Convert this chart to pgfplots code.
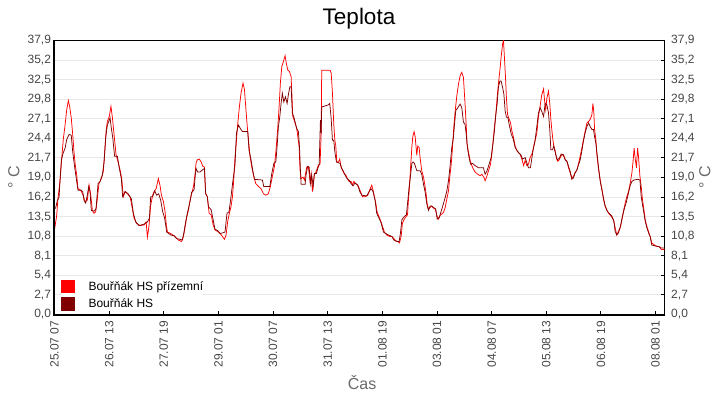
\documentclass[border=0pt]{standalone}
\usepackage{fontspec}
\setmainfont{Liberation Sans}
\usepackage{pgfplots}
\pgfplotsset{compat=1.18}
\definecolor{bouR}{RGB}{255,0,0}
\definecolor{bouD}{RGB}{128,0,0}
\definecolor{ticklab}{RGB}{70,70,70}
\definecolor{lab}{RGB}{105,105,105}
\definecolor{gridc}{RGB}{232,232,232}
\pgfplotsset{
  common/.style={
    at={(0,0)}, anchor=south west, scale only axis,
    width=610.2pt, height=274pt,
    xmin=0, xmax=335, ymin=0, ymax=37.9,
    xtick={0,30,60,90,120,150,180,210,240,270,300,330},
    ytick={0,2.70714,5.41429,8.12143,10.82857,13.53571,16.24286,18.95,21.65714,24.36429,27.07143,29.77857,32.48571,35.19286,37.9},
    yticklabels={{0,0},{2,7},{5,4},{8,1},{10,8},{13,5},{16,2},{19,0},{21,7},{24,4},{27,1},{29,8},{32,5},{35,2},{37,9}},
    /pgf/number format/assume math mode=true,
    ticklabel style={font=\fontsize{12}{14}\selectfont, text=ticklab},
  }
}
\begin{document}
\begin{tikzpicture}
\useasboundingbox (-54.5pt,-85.5pt) rectangle (665.5pt,314.5pt);
\begin{axis}[
  common,
  xticklabels={25.07 07,26.07 13,27.07 19,29.07 01,30.07 07,31.07 13,01.08 19,03.08 01,04.08 07,05.08 13,06.08 19,08.08 01},
  xticklabel style={rotate=90, anchor=east, inner sep=0pt},
  xticklabel shift=6pt,
  xtick pos=left, ytick pos=right, yticklabel pos=left,
  tick align=inside, major tick length=4pt,
  tick style={black, line width=1pt},
  ymajorgrids, grid style={gridc, line width=1pt},
  axis line style={black, line width=1pt},
  title={Teplota},
  title style={at={(axis description cs:0.499,1.0383)}, anchor=base, font=\fontsize{22.5}{26}\selectfont, inner sep=0pt},
  xlabel={Čas},
  xlabel style={at={(axis description cs:0.504,-0.2755)}, anchor=base, font=\fontsize{16}{18}\selectfont, text=lab, inner sep=0pt},
  ylabel={° C},
  ylabel style={at={(axis description cs:-0.0664,0.5)}, anchor=center, font=\fontsize{16}{18}\selectfont, text=lab, inner sep=0pt},
  legend style={at={(axis description cs:0.0107,0.0139)}, anchor=south west, draw=none, fill=white, inner sep=0pt, outer sep=0pt, font=\fontsize{12}{14}\selectfont, row sep=4pt, nodes={inner sep=0pt}, /tikz/every odd column/.append style={column sep=14pt}},
  legend cell align=left,
  legend image code/.code={\fill[#1, draw=none] (0pt,-6.75pt) rectangle (13.5pt,6.75pt);},
  after end axis/.code={\draw[black, line width=2pt] (rel axis cs:0,1) -- (rel axis cs:0,0) -- (rel axis cs:1,0);},
]
\addplot[color=bouR, line width=0.75pt] coordinates {
(0,11.7)(1.2,13.7)(1.9,16.0)(3.0,18.4)(3.8,21.1)(4.9,24.4)(5.8,26.2)(6.7,28.3)(7.6,29.6)(8.3,28.8)(9.2,27.2)(10.0,24.9)(10.7,22.5)(11.4,20.7)(12.2,19.3)(12.9,17.4)(14.4,17.2)(15.7,16.5)(16.8,15.6)(18.0,15.8)(19.0,17.9)(19.9,16.5)(20.8,14.4)(21.7,14.0)(22.6,14.2)(23.5,16.0)(24.4,18.1)(25.7,18.8)(26.8,19.8)(27.6,22.5)(28.3,25.3)(29.0,26.7)(30.1,27.4)(31.0,28.8)(31.8,27.2)(32.7,24.9)(33.8,22.1)(34.9,21.1)(36.0,20.0)(36.9,18.8)(37.8,16.3)(38.7,17.0)(40.0,16.7)(41.5,16.3)(42.4,15.1)(43.7,13.3)(45.1,12.6)(47.0,12.3)(49.2,12.4)(50.3,12.8)(51.0,10.7)(51.9,12.3)(52.8,15.1)(53.9,16.5)(54.7,17.0)(55.8,17.4)(57.0,18.8)(57.9,17.9)(58.7,16.5)(59.8,15.6)(60.7,14.2)(61.4,12.3)(62.0,11.4)(63.8,11.2)(65.6,10.9)
(68.0,10.3)(69.8,10.1)(70.8,10.8)(71.7,12.1)(72.6,13.5)(73.5,14.4)(74.4,15.8)(75.3,16.7)(76.3,17.7)(77.2,19.5)(77.7,20.9)(78.4,21.4)(79.5,21.5)(80.5,21.1)(81.4,20.5)(82.3,20.4)(83.0,16.7)(83.9,16.3)(84.9,14.0)(86.0,13.8)(87.1,12.4)(88.1,11.7)(89.6,11.5)(90.9,11.2)(92.2,10.8)(93.3,10.4)(94.2,11.0)(95.1,12.9)(96.0,14.0)(96.9,14.9)(97.7,16.3)(98.4,18.6)(99.1,21.8)(99.9,24.1)(100.6,26.4)(101.5,28.7)(102.4,30.6)(103.5,32.0)(104.3,31.1)(105.0,28.7)(105.7,26.4)(106.5,24.1)(107.4,21.8)(108.3,20.4)(109.4,19.1)(110.5,18.1)(112.0,17.7)(113.4,17.4)(114.7,16.7)(116.0,16.5)(117.4,16.7)(118.5,17.7)(119.6,19.1)(120.7,20.4)(121.6,22.7)(122.6,25.9)(123.3,28.7)(124.0,32.0)(124.8,34.3)(125.9,35.2)(126.6,35.8)(127.3,34.7)(128.1,33.8)(129.0,33.6)(129.9,32.9)(130.3,30.6)(130.8,27.4)(131.3,27.1)
(133.0,25.7)(134.3,23.2)(134.8,20.0)(135.4,18.8)(136.5,19.0)(137.2,18.6)(138.5,20.4)(139.4,20.4)(140.3,18.4)(140.9,19.5)(141.6,17.0)(142.1,18.1)(142.7,19.5)(143.4,19.6)(144.2,20.2)(144.9,20.7)(145.8,20.8)(146.4,25.0)(146.7,33.8)(151.3,33.8)(151.9,33.4)(152.6,30.6)(153.3,26.4)(153.9,24.1)(154.4,23.4)(155.0,21.1)(155.9,21.1)(156.6,21.5)(157.3,20.4)(158.1,20.0)(159.0,19.5)(159.9,19.3)(160.8,18.8)(161.7,18.4)(162.8,18.4)(163.6,17.9)(164.3,18.4)(165.4,18.1)(166.9,17.7)(168.0,17.0)(169.1,16.3)(170.5,16.3)(172.0,16.5)(173.3,17.4)(174.2,17.9)(174.7,17.4)(175.6,16.3)(176.4,15.4)(177.1,14.2)(178.2,13.5)(179.3,12.8)(180.2,12.1)(181.1,11.4)(182.4,11.0)(183.9,10.8)(185.2,10.8)(186.3,10.5)(187.4,10.2)(188.5,10.1)(189.4,9.9)(190.3,10.8)(191.0,12.6)(191.8,13.1)(192.9,13.5)(193.8,13.8)(194.3,15.8)(194.9,17.7)(195.4,20.0)(196.2,23.2)(196.7,24.6)(197.4,25.3)
(198.0,24.6)(198.9,22.0)(199.4,23.3)(200.2,23.1)(200.7,21.7)(201.6,19.9)(202.6,19.0)(203.5,17.6)(204.0,16.7)(204.6,15.3)(205.3,14.6)(206.2,14.8)(207.1,15.0)(208.1,14.7)(209.0,14.6)(209.9,13.7)(210.8,13.2)(211.7,13.7)(212.6,13.9)(213.5,14.1)(214.5,14.8)(215.4,16.0)(216.3,17.1)(217.0,19.0)(217.8,20.8)(218.5,23.1)(219.2,25.9)(220.0,28.2)(220.9,30.3)(221.8,31.9)(222.7,33.0)(223.6,33.5)(224.5,32.8)(225.4,29.1)(226.0,26.3)(226.5,23.6)(227.3,22.4)(228.2,21.3)(229.1,20.6)(230.0,20.1)(230.9,19.7)(232.4,19.4)(233.7,19.2)(234.6,19.4)(235.7,19.0)(236.4,18.5)(237.2,19.0)(238.3,19.9)(239.4,20.8)(240.1,22.2)(240.8,24.0)(241.5,25.9)(242.3,27.7)(243.0,30.0)(243.7,31.9)(244.5,33.7)(245.2,35.6)(246.0,37.4)(246.5,37.9)(247.0,35.6)(247.6,32.8)(248.1,30.0)(248.7,27.7)(249.6,27.0)(250.3,26.6)(251.1,25.4)(252.0,24.5)(252.9,23.3)(253.8,22.7)(254.7,22.4)(255.6,22.2)(256.6,21.5)(257.5,20.6)(258.4,21.3)(259.3,20.6)(260.2,20.8)(261.1,21.7)(262.1,22.2)(263.0,23.1)
(264.8,25.1)(265.7,27.4)(266.6,28.8)(267.5,30.4)(268.5,31.2)(269.0,29.7)(269.7,28.3)(270.3,29.9)(271.2,30.9)(271.9,29.2)(272.5,27.0)(273.0,25.6)(273.6,24.2)(274.1,23.3)(274.9,22.6)(275.6,21.6)(276.3,21.2)(277.1,21.4)(278.2,22.0)(279.4,22.1)(280.4,21.4)(281.3,21.2)(282.2,20.3)(283.1,19.6)(284.0,18.9)(284.9,19.1)(285.8,19.6)(286.8,20.0)(287.7,20.9)(288.6,21.9)(289.5,23.0)(290.4,24.2)(291.3,25.3)(292.3,26.5)(293.2,26.7)(294.1,27.0)(295.0,27.6)(295.6,29.2)(296.1,27.9)(296.5,25.6)(297.2,24.2)(297.7,22.3)(298.7,20.0)(299.6,18.6)(300.5,17.3)(301.4,15.9)(302.3,15.0)(303.2,14.5)(304.2,14.0)(305.6,13.6)(306.9,13.1)(307.8,12.0)(308.7,11.0)(309.6,11.5)(310.6,12.0)(311.5,13.1)(312.4,14.3)(313.3,15.4)(314.2,16.3)(315.1,17.0)(316.1,18.2)(317.0,19.6)(317.7,21.4)(318.2,23.0)(318.8,21.6)(319.5,20.3)(320.1,23.0)(320.6,21.9)(321.4,19.1)(322.1,17.7)(322.8,15.9)(323.6,14.5)(324.3,13.1)(325.2,12.2)(326.1,11.5)(327.0,10.8)(327.9,9.9)(329.4,9.6)(330.7,9.4)(332.0,9.4)(333.1,9.0)(335.0,9.0)
};
\addlegendentry{Bouřňák HS přízemní}
\addplot[color=bouD, line width=0.75pt] coordinates {
(0,14.7)(0.6,14.7)(1.6,15.8)(2.5,16.2)(3.0,18.4)(3.8,21.4)(4.7,22.3)(5.8,23.0)(6.7,24.2)(8.0,24.9)(9.2,24.8)(10.0,22.5)(10.7,21.1)(11.4,19.8)(12.2,18.4)(12.9,17.2)(14.4,17.2)(15.5,17.0)(16.2,15.8)(17.1,15.4)(18.0,16.5)(18.8,17.7)(19.5,17.0)(20.2,14.4)(21.7,14.3)(22.8,14.6)(23.9,18.1)(25.0,18.4)(26.3,19.3)(27.2,21.1)(28.1,24.4)(29.0,26.2)(29.8,26.7)(30.5,27.2)(31.2,25.8)(32.0,24.4)(33.0,21.9)(34.5,21.9)(35.6,20.2)(36.7,18.8)(37.4,16.3)(38.9,17.0)(40.4,16.7)(42.2,16.0)(43.3,14.0)(44.6,12.8)(46.4,12.3)(49.2,12.5)(51.0,12.8)(52.1,13.3)(52.8,16.3)(53.9,16.3)(55.0,17.1)(56.1,16.5)(57.2,16.7)(58.3,15.8)(59.4,14.2)(60.5,13.3)(61.6,11.4)(63.8,11.0)(65.6,10.9)
(67.1,10.5)(68.9,10.4)(70.2,10.3)(71.1,11.4)(72.0,12.8)(73.1,14.2)(74.4,15.6)(75.3,16.9)(76.6,17.2)(77.2,19.0)(77.7,20.2)(78.6,19.7)(79.9,19.7)(81.2,20.0)(82.3,20.2)(83.0,16.7)(83.9,16.3)(84.5,14.9)(86.0,14.5)(87.1,13.1)(88.1,11.8)(89.6,11.6)(90.9,11.2)(92.4,11.3)(93.6,11.4)(94.7,14.0)(95.8,14.2)(96.9,16.3)(98.0,18.6)(99.1,20.7)(99.9,25.1)(101.0,26.2)(102.1,25.7)(103.2,25.3)(106.1,25.3)(106.8,22.7)(107.9,21.4)(109.0,19.7)(109.8,18.7)(114.1,18.6)(114.9,17.7)(118.2,17.7)(119.3,19.5)(120.4,20.9)(121.5,21.1)(122.2,23.2)(122.9,25.9)(123.7,27.4)(124.4,29.2)(125.1,30.6)(125.9,29.4)(126.8,30.1)(127.7,29.2)(128.4,30.4)(129.2,31.5)(129.9,31.5)(130.6,27.8)(131.3,27.4)
(133.0,25.7)(133.9,25.3)(134.5,23.2)(135.0,20.0)(135.4,18.0)(137.6,18.0)(138.1,19.3)(139.0,20.5)(139.8,20.4)(140.5,18.1)(141.2,19.3)(142.0,17.7)(142.7,19.5)(143.8,19.5)(144.5,20.2)(145.3,20.7)(146.0,26.9)(146.4,25.1)(146.7,28.7)(150.4,29.0)(151.1,29.2)(151.9,27.1)(152.6,24.1)(153.3,24.1)(154.0,22.3)(154.8,21.1)(156.8,20.9)(157.7,20.2)(158.8,19.7)(159.5,19.3)(160.6,18.8)(161.7,18.6)(162.8,18.1)(163.9,17.8)(165.0,18.2)(166.5,17.9)(167.6,17.0)(168.7,16.5)(171.4,16.4)(172.7,17.0)(173.8,17.4)(174.9,17.0)(176.0,15.8)(176.9,14.0)(178.2,13.3)(179.3,12.7)(180.6,11.4)(181.9,11.2)(183.3,11.0)(185.2,10.8)(186.3,10.3)(187.9,10.1)(189.2,10.1)(189.9,11.2)(190.7,13.1)(191.8,13.5)(193.2,13.8)(194.0,15.8)(194.7,17.7)(195.4,19.1)(196.2,20.9)(196.9,21.1)(197.6,20.9)
(198.9,19.9)(200.7,19.9)(201.6,19.4)(202.6,18.0)(203.5,16.9)(204.4,15.3)(205.3,14.4)(206.2,15.0)(207.1,15.0)(208.1,14.8)(209.3,14.6)(210.1,13.2)(211.2,13.4)(212.3,14.3)(213.5,15.3)(214.5,16.2)(215.4,17.1)(216.3,18.5)(217.2,20.6)(218.1,23.1)(219.0,24.5)(219.6,26.3)(220.3,28.2)(221.4,28.6)(222.7,29.1)(223.6,28.6)(224.5,26.6)(225.4,26.3)(226.0,25.0)(226.7,23.1)(227.6,21.7)(228.4,20.8)(229.5,20.9)(230.9,20.6)(232.8,20.3)(235.5,20.3)(236.4,19.4)(237.5,19.9)(238.6,20.8)(239.7,21.7)(240.8,23.8)(241.5,25.4)(242.3,27.7)(243.0,29.1)(243.7,31.4)(244.5,32.3)(245.2,32.3)(246.0,31.4)(246.7,30.5)(247.4,28.2)(248.1,27.3)(248.9,27.3)(249.6,26.3)(250.7,25.0)(251.8,24.3)(252.9,23.1)(254.7,22.4)(256.2,22.0)(256.9,21.5)(258.4,21.7)(259.3,21.0)(260.2,20.3)(261.3,20.3)(262.1,21.7)(263.0,23.1)
(263.9,24.2)(264.8,26.0)(265.7,27.9)(266.6,28.6)(267.5,28.1)(268.5,27.4)(269.4,29.2)(270.3,29.0)(271.2,27.9)(271.9,25.6)(272.5,22.8)(273.4,22.8)(274.1,23.3)(275.2,22.1)(276.0,21.4)(277.1,21.6)(278.2,22.2)(279.3,22.1)(280.4,21.4)(281.3,21.2)(282.2,20.5)(283.1,19.8)(284.0,18.7)(284.9,18.9)(285.8,19.6)(286.8,20.0)(287.7,20.7)(288.6,21.4)(289.5,22.6)(290.4,24.0)(291.3,25.1)(292.3,26.0)(293.2,26.5)(294.1,26.0)(295.0,25.6)(295.9,25.6)(296.5,24.6)(297.2,23.7)(297.9,22.1)(298.7,20.3)(299.6,18.4)(300.5,17.3)(301.4,16.1)(302.3,15.0)(303.4,14.3)(304.5,14.0)(306.0,13.6)(307.1,12.9)(307.8,11.5)(308.7,11.0)(309.6,11.3)(310.7,12.2)(311.8,13.6)(312.9,14.7)(314.0,15.6)(315.1,16.8)(316.1,17.9)(317.0,18.4)(318.1,18.6)(320.3,18.7)(321.4,18.6)(322.1,16.3)(322.8,15.2)(323.6,14.0)(324.3,12.9)(325.2,12.0)(326.1,11.3)(327.0,10.8)(327.9,9.6)(329.8,9.5)(331.6,9.4)(333.1,9.2)(335.0,9.2)
};
\addlegendentry{Bouřňák HS}
\end{axis}
\begin{axis}[
  common,
  axis x line=none, axis y line*=right,
  y axis line style={draw=none},
  ytick style={draw=none},
  yticklabel pos=right,
  yticklabel shift=3pt,
  ylabel={° C},
  ylabel style={at={(axis description cs:1.066,0.5)}, anchor=center, rotate=0, font=\fontsize{16}{18}\selectfont, text=lab, inner sep=0pt},
]
\end{axis}
\end{tikzpicture}
\end{document}
